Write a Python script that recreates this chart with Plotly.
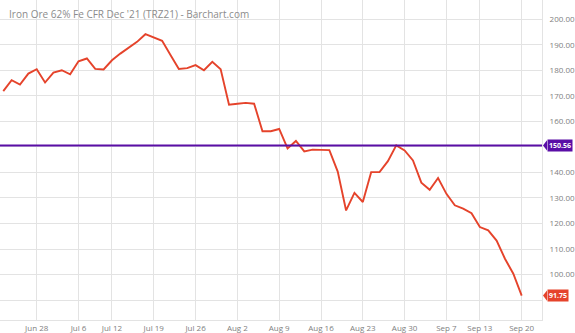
import plotly.graph_objects as go

dates = ["2021-06-22","2021-06-23","2021-06-24","2021-06-25",
         "2021-06-28","2021-06-29","2021-06-30","2021-07-01","2021-07-02",
         "2021-07-06","2021-07-07","2021-07-08","2021-07-09",
         "2021-07-12","2021-07-13","2021-07-14","2021-07-15","2021-07-16",
         "2021-07-19","2021-07-20","2021-07-21","2021-07-22","2021-07-23",
         "2021-07-26","2021-07-27","2021-07-28","2021-07-29","2021-07-30",
         "2021-08-02","2021-08-03","2021-08-04","2021-08-05","2021-08-06",
         "2021-08-09","2021-08-10","2021-08-11","2021-08-12","2021-08-13",
         "2021-08-16","2021-08-17","2021-08-18","2021-08-19","2021-08-20",
         "2021-08-23","2021-08-24","2021-08-25","2021-08-26","2021-08-27",
         "2021-08-30","2021-08-31","2021-09-01","2021-09-02","2021-09-03",
         "2021-09-07","2021-09-08","2021-09-09","2021-09-10",
         "2021-09-13","2021-09-14","2021-09-15","2021-09-16","2021-09-17",
         "2021-09-20"]

prices = [171.8, 176.1, 174.4, 178.7,
          180.4, 175.2, 179.1, 180.0, 178.4,
          183.5, 184.6, 180.5, 180.3,
          183.9, 186.5, 188.7, 191.1, 194.1,
          192.8, 191.5, 186.0, 180.5, 180.8,
          182.0, 180.0, 183.3, 180.4, 166.5,
          166.9, 167.2, 166.9, 156.1, 156.1,
          157.0, 149.4, 152.3, 148.2, 148.9,
          148.8, 148.7, 140.3, 125.1, 132.0,
          128.4, 140.1, 140.1, 144.4, 150.56,
          148.6, 144.7, 136.0, 133.2, 137.8,
          131.6, 127.1, 125.8, 124.0,
          118.6, 117.3, 113.3, 106.2, 100.3,
          91.75]

tick_dates = ["2021-06-28","2021-07-06","2021-07-12","2021-07-19","2021-07-26",
              "2021-08-02","2021-08-09","2021-08-16","2021-08-23","2021-08-30",
              "2021-09-07","2021-09-13","2021-09-20"]
tick_labels = ["Jun 28","Jul 6","Jul 12","Jul 19","Jul 26","Aug 2","Aug 9",
               "Aug 16","Aug 23","Aug 30","Sep 7","Sep 13","Sep 20"]

# price-axis labels shown (90 and 150 are hidden behind the value tags)
y_ticks = [100, 110, 120, 130, 140, 160, 170, 180, 190, 200]

level = 150.56
last = prices[-1]
title = "Iron Ore 62% Fe CFR Dec '21 (TRZ21) - Barchart.com"

grid = "#e3e3e3"
red = "#e5432b"
purple = "#5a0ea6"

fig = go.Figure()
fig.add_trace(go.Scatter(x=dates, y=prices, mode="lines",
                         line=dict(color=red, width=1.9), hoverinfo="skip"))
fig.add_hline(y=level, line=dict(color=purple, width=2))

fig.update_layout(
    width=575, height=333,
    margin=dict(l=0, r=28, t=0, b=13),
    paper_bgcolor="white", plot_bgcolor="white",
    showlegend=False,
    font=dict(family="Open Sans", size=8, color="#808080"),
    xaxis=dict(type="category", range=[-0.39, 64.43],
               tickmode="array", tickvals=tick_dates, ticktext=tick_labels,
               showgrid=True, gridcolor=grid, gridwidth=1,
               showline=True, linecolor=grid, linewidth=1,
               ticks="", tickfont=dict(size=8, color="#808080"), zeroline=False),
    yaxis=dict(side="right", range=[82.2, 207.5],
               tickmode="array", tickvals=y_ticks,
               tickformat=".2f", showgrid=True, gridcolor=grid, gridwidth=1,
               minor=dict(dtick=10, tick0=0, showgrid=True, gridcolor=grid,
                          gridwidth=1, ticks=""),
               showline=True, linecolor=grid, linewidth=1,
               ticks="", ticklabelstandoff=5,
               tickfont=dict(size=8, color="#808080"), zeroline=False),
)

fig.add_annotation(text=title, xref="paper", yref="paper", x=0.012, y=0.985,
                   xanchor="left", yanchor="top", showarrow=False,
                   font=dict(family="Open Sans", size=10, color="#8c8c8c"))

for val, col in [(level, purple), (last, red)]:
    fig.add_annotation(text="<b>%.2f</b>" % val, xref="paper", yref="y",
                       x=1.0, y=val, xanchor="left", yanchor="middle",
                       xshift=5, showarrow=False, bgcolor=col, borderpad=1,
                       font=dict(family="Open Sans", size=7, color="white"))
    fig.add_shape(type="path", xref="paper", yref="y", layer="above",
                  path="M 1.0018 %f L 1.0092 %f L 1.0092 %f Z" % (val, val + 2.0, val - 2.0),
                  fillcolor=col, line=dict(width=0))

fig.write_html("out.html")
